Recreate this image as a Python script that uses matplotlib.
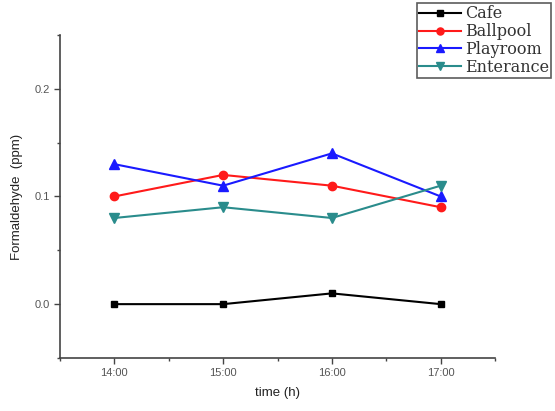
import matplotlib
matplotlib.use("Agg")
import matplotlib.pyplot as plt
from matplotlib.ticker import MultipleLocator

plt.rcParams["font.family"] = ["Liberation Sans", "DejaVu Sans"]

hours = [14, 15, 16, 17]
tick_labels = ["14:00", "15:00", "16:00", "17:00"]
cafe = [0.0, 0.0, 0.01, 0.0]
ballpool = [0.10, 0.12, 0.11, 0.09]
playroom = [0.13, 0.11, 0.14, 0.10]
enterance = [0.08, 0.09, 0.08, 0.11]

fig = plt.figure(figsize=(5.55, 4.11), dpi=100)
ax = fig.add_axes([0.108, 0.129, 0.784, 0.786])

ax.plot(hours, cafe, color="black", marker="s", ms=5, lw=1.5, label="Cafe")
ax.plot(hours, ballpool, color="#ff1a1a", marker="o", ms=6, lw=1.5, label="Ballpool")
ax.plot(hours, playroom, color="#1a1aff", marker="^", ms=6.5, lw=1.5, label="Playroom")
ax.plot(hours, enterance, color="#2a8c8c", marker="v", ms=6.5, lw=1.5, label="Enterance")

ax.set_xlim(13.5, 17.5)
ax.set_ylim(-0.05, 0.25)
ax.set_xticks(hours)
ax.set_xticklabels(tick_labels)
ax.xaxis.set_minor_locator(MultipleLocator(0.5))
ax.set_yticks([0.0, 0.1, 0.2])
ax.set_yticklabels(["0.0", "0.1", "0.2"])
ax.yaxis.set_minor_locator(MultipleLocator(0.05))

for s in ["top", "right"]:
    ax.spines[s].set_visible(False)
for s in ["left", "bottom"]:
    ax.spines[s].set_color("#444444")
    ax.spines[s].set_linewidth(1.2)

ax.tick_params(which="major", direction="out", length=4, width=1, colors="#444444",
               labelsize=8, labelcolor="#555555")
ax.tick_params(which="minor", direction="out", length=2.5, width=1, colors="#444444")

ax.set_xlabel("time (h)", fontsize=9.5, color="#222222", labelpad=6)
ax.set_ylabel("Formaldehyde  (ppm)", fontsize=9.5, color="#222222", labelpad=8)

leg = fig.legend(loc="upper right", bbox_to_anchor=(1.008, 1.012), frameon=True,
                 fancybox=False, edgecolor="#333333", borderpad=0.15,
                 labelspacing=0.05, handlelength=2.6, handletextpad=0.25,
                 markerscale=0.85,
                 prop={"family": "DejaVu Serif", "size": 11.5})
for t in leg.get_texts():
    t.set_color("#333333")
leg.get_frame().set_linewidth(1.2)

fig.savefig("out.png", dpi=100)
